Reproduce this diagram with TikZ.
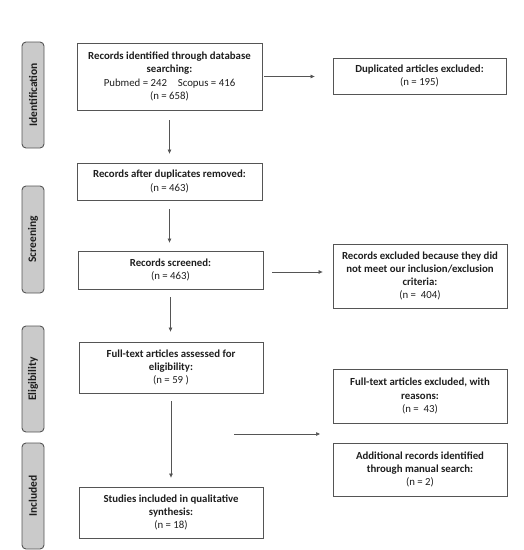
\documentclass[tikz,border=0pt]{standalone}
\usepackage{fontspec}
\setmainfont{Carlito}
\usetikzlibrary{arrows.meta}
\definecolor{edge}{HTML}{555555}
\definecolor{ink}{HTML}{1E1E1E}
\definecolor{barfill}{HTML}{CACACA}
\begin{document}
\begin{tikzpicture}[x=1pt,y=-1pt,
  box/.style={draw=edge,line width=0.8pt,inner sep=0pt,align=center,text=ink,
    font=\fontsize{10.8}{13.3}\selectfont},
  bar/.style={draw=edge,fill=barfill,rounded corners=4pt,line width=0.9pt,inner sep=0pt,
    minimum height=22pt,rotate=90,text=ink,font=\bfseries\fontsize{11.5}{12}\selectfont},
  arr/.style={draw=edge,line width=0.7pt,-{Triangle[length=4pt,width=3.5pt]}}]
\useasboundingbox (0,0) rectangle (524,550);
% side bars
\node[bar,minimum width=106pt] (sid) at (33,95) {Identification};
\node[bar,minimum width=107pt] (ssc) at (33,239.5) {Screening};
\node[bar,minimum width=106pt] (sel) at (33,379) {Eligibility};
\node[bar,minimum width=106pt] (sin) at (33,496) {Included};
% boxes
\node[box,minimum width=185pt,minimum height=67pt] (b1) at (169.5,76.5)
  {\textbf{Records identified through database}\\\textbf{searching:}\\Pubmed = 242\quad Scopus = 416\\(n = 658)};
\node[box,minimum width=173pt,minimum height=36pt] (dup) at (419.5,76)
  {\textbf{Duplicated articles excluded:}\\(n = 195)};
\node[box,minimum width=185pt,minimum height=37pt] (b2) at (169.5,181.5)
  {\textbf{Records after duplicates removed:}\\(n = 463)};
\node[box,minimum width=185pt,minimum height=38pt] (b3) at (170.5,270)
  {\textbf{Records screened:}\\(n = 463)};
\node[box,minimum width=174pt,minimum height=64pt] (exc) at (420,276)
  {\textbf{Records excluded because they did}\\\textbf{not meet our inclusion/exclusion}\\\textbf{criteria:}\\(n =\ \ 404)};
\node[box,minimum width=184pt,minimum height=51pt] (b4) at (171,367.5)
  {\textbf{Full-text articles assessed for}\\\textbf{eligibility:}\\(n = 59 )};
\node[box,minimum width=184pt,minimum height=51pt] (b5) at (171,512.5)
  {\textbf{Studies included in qualitative}\\\textbf{synthesis:}\\(n = 18)};
\node[box,minimum width=174pt,minimum height=54pt] (ex43) at (420,396)
  {\textbf{Full-text articles excluded, with}\\\textbf{reasons:}\\(n =\ \ 43)};
\node[box,minimum width=174pt,minimum height=53pt] (add) at (420,469.5)
  {\textbf{Additional records identified}\\\textbf{through manual search:}\\(n = 2)};
% connectors
\draw[arr,shorten <=2pt,shorten >=18pt] (b1.east) -- (b1.east -| dup.west);
\draw[arr,shorten <=10pt,shorten >=9pt] (b1.south) -- (b2.north);
\draw[arr,shorten <=9pt,shorten >=8pt] (b2.south) -- (b2.south |- b3.north);
\draw[arr,shorten <=9pt,shorten >=10pt] ([yshift=-2pt]b3.east) -- ([yshift=-2pt]b3.east -| exc.west);
\draw[arr,shorten <=8pt,shorten >=10pt] (b3.south) -- (b3.south |- b4.north);
\draw[arr,shorten <=8pt,shorten >=9pt] (b4.south) -- (b5.north);
\coordinate (ms) at (234,434);
\coordinate (me) at (320,434);
\draw[arr] (ms) -- (me);
\end{tikzpicture}
\end{document}
